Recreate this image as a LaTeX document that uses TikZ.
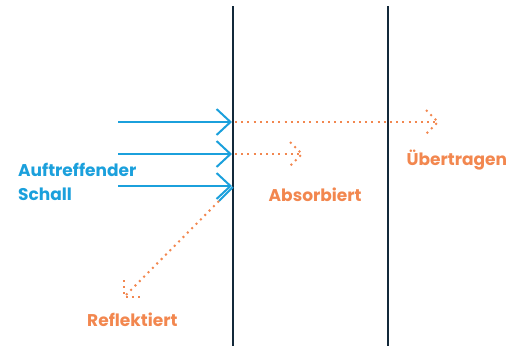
\documentclass[tikz,border=0pt]{standalone}
\usepackage{fontspec}
\setmainfont{Poppins}
\usetikzlibrary{arrows.meta,calc}
\definecolor{navy}{HTML}{13293A}
\definecolor{sblue}{HTML}{1BA0DC}
\definecolor{sorange}{HTML}{F2874F}
\tikzset{
  wall/.style={draw=navy,line width=2.4pt},
  ray/.style={draw=sblue,line width=2pt,-{Straight Barb[length=14pt,width=26pt,line width=2pt]}},
  rayplain/.style={draw=sblue,line width=2pt},
  dotline/.style={draw=sorange,line width=2pt,dash pattern=on 2pt off 4.2pt},
  lbl/.style={font=\fontsize{17}{23.3}\selectfont\bfseries,anchor=base west,inner sep=0pt,align=left},
}
\begin{document}
\begin{tikzpicture}[x=1pt,y=-1pt]
\useasboundingbox (0,0) rectangle (509,346);
% walls
\coordinate (w1t) at (233,6); \coordinate (w1b) at (233,346);
\coordinate (w2t) at (388,6); \coordinate (w2b) at (388,346);
\draw[wall] (w1t) -- (w1b);
\draw[wall] (w2t) -- (w2b);
% incoming rays
\coordinate (s1) at (118,122); \coordinate (h1) at (232,122);
\coordinate (s2) at (118,154); \coordinate (h2) at (232,154);
\coordinate (s3) at (118,186); \coordinate (h3) at (232,186);
\draw[ray] (s1) -- (h1);
\draw[ray] (s2) -- (h2);
\draw[ray] (s3) -- (h3);
% transmitted
\coordinate (t1) at (438,122);
\draw[dotline] (235,122) -- (t1);
\draw[dotline] ($(t1)+(-12,-12)$) -- (t1) -- ($(t1)+(-12,12)$);
% absorbed
\coordinate (a1) at (302,154);
\draw[dotline] (235,154) -- (a1);
\draw[dotline] ($(a1)+(-12,-12)$) -- (a1) -- ($(a1)+(-12,12)$);
% reflected
\coordinate (r0) at (233,187); \coordinate (r1) at (219,201); \coordinate (r2) at (124,297);
\draw[rayplain] (r0) -- (r1);
\draw[dotline] (r1) -- (r2);
\draw[dotline] ($(r2)+(0,-17)$) -- (r2) -- ($(r2)+(17,0)$);
% labels
\node[lbl,text=sblue] (inc) at (18,200) {Auftreffender\\Schall};
\node[lbl,text=sorange] (abs) at (268.5,201.5) {Absorbiert};
\node[lbl,text=sorange] (tra) at (406.5,165) {Übertragen};
\node[lbl,text=sorange] (ref) at (87,326.5) {Reflektiert};
\end{tikzpicture}
\end{document}
